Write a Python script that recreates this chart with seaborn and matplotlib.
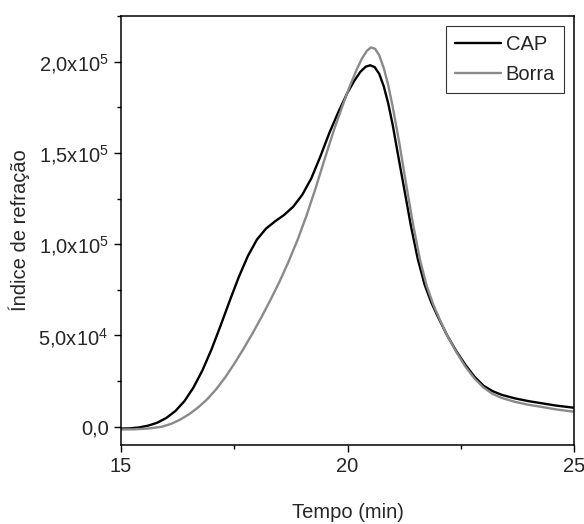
import numpy as np
import pandas as pd
import seaborn as sns
import matplotlib.pyplot as plt
from matplotlib.ticker import MultipleLocator, FixedLocator, FixedFormatter

tempo_cap = [15.0, 15.2, 15.4, 15.6, 15.8, 16.0, 16.2, 16.4, 16.6, 16.8,
             17.0, 17.2, 17.4, 17.6, 17.8, 18.0, 18.2, 18.4, 18.6, 18.8,
             19.0, 19.2, 19.4, 19.6, 19.8, 20.0, 20.15, 20.28, 20.4, 20.5,
             20.6, 20.7, 20.8, 20.9, 21.0, 21.1, 21.25, 21.4, 21.55, 21.7,
             21.85, 22.0, 22.2, 22.4, 22.6, 22.8, 23.0, 23.2, 23.4, 23.7,
             24.0, 24.3, 24.6, 25.0]
ir_cap = [-1000, -900, -400, 600, 2200, 4800, 8600, 14000, 21500, 31000,
          42500, 55500, 69000, 82000, 93500, 102500, 108500, 112500, 116000, 120500,
          127000, 136000, 148000, 161000, 172500, 183000, 189500, 194300, 197200, 198000,
          197000, 193300, 186500, 177000, 165000, 151000, 130500, 110000, 92000, 78000,
          68000, 60000, 50000, 41500, 34000, 27500, 22500, 19500, 17500, 15500,
          14000, 12800, 11600, 10400]

tempo_borra = [15.0, 15.3, 15.6, 15.9, 16.1, 16.3, 16.5, 16.7, 16.9, 17.1,
               17.3, 17.5, 17.7, 17.9, 18.1, 18.3, 18.5, 18.7, 18.9, 19.1,
               19.3, 19.5, 19.7, 19.9, 20.05, 20.2, 20.32, 20.43, 20.52, 20.61,
               20.7, 20.8, 20.9, 21.0, 21.15, 21.3, 21.45, 21.6, 21.75, 21.9,
               22.05, 22.2, 22.4, 22.6, 22.8, 23.0, 23.2, 23.4, 23.7, 24.0,
               24.3, 24.6, 25.0]
ir_borra = [-1500, -1400, -1000, 0, 1500, 3800, 6800, 10500, 15000, 20500,
            27000, 34500, 42500, 51000, 60000, 69500, 79500, 90500, 102500, 116000,
            131000, 147000, 162500, 176500, 186500, 195500, 201800, 206000, 207800, 207000,
            203500, 196500, 187000, 175000, 154500, 132000, 110500, 91500, 77000, 66500,
            58000, 50000, 41000, 33000, 26500, 21500, 18000, 15800, 13600, 12000,
            10800, 9500, 8200]

yticks = [0, 5e4, 1e5, 1.5e5, 2e5]
ytick_labels = ["0,0", "5,0x10$^{4}$", "1,0x10$^{5}$", "1,5x10$^{5}$", "2,0x10$^{5}$"]

df = pd.concat([
    pd.DataFrame({"tempo": tempo_cap, "ir": ir_cap, "amostra": "CAP"}),
    pd.DataFrame({"tempo": tempo_borra, "ir": ir_borra, "amostra": "Borra"}),
])

sns.set_style("ticks")
plt.rcParams["font.family"] = ["Liberation Sans", "DejaVu Sans"]
plt.rcParams["mathtext.default"] = "regular"

fig = plt.figure(figsize=(5.84, 5.24), dpi=100)
ax = fig.add_axes([0.2072, 0.1508, 0.7757, 0.8187])

sns.lineplot(data=df, x="tempo", y="ir", hue="amostra", estimator=None,
             palette={"CAP": "black", "Borra": "#8a8a8a"}, linewidth=1.7, ax=ax)
for ln in ax.get_lines():
    ln.set_solid_joinstyle("round")

ax.set_xlim(15, 25)
ax.set_ylim(-1e4, 2.25e5)
ax.xaxis.set_major_locator(MultipleLocator(5))
ax.xaxis.set_minor_locator(MultipleLocator(2.5))
ax.yaxis.set_major_locator(FixedLocator(yticks))
ax.yaxis.set_major_formatter(FixedFormatter(ytick_labels))
ax.yaxis.set_minor_locator(MultipleLocator(2.5e4))

for s in ax.spines.values():
    s.set_linewidth(1.1)
    s.set_color("black")
ax.tick_params(which="major", length=5, width=1.0, labelsize=14.5, color="black", pad=4)
ax.tick_params(which="minor", length=3, width=1.0, color="black")

ax.set_xlabel("Tempo (min)", fontsize=14.5, labelpad=19)
ax.set_ylabel("Índice de refração", fontsize=14.5, labelpad=6)

leg = ax.legend(title=None, loc="upper right", fontsize=14.5, frameon=True, fancybox=False,
                handlelength=2.3, handletextpad=0.2, borderaxespad=0.5,
                labelspacing=0.55, borderpad=0.45)
leg.get_frame().set_edgecolor("black")
leg.get_frame().set_linewidth(0.8)

fig.savefig("out.png", dpi=100)
